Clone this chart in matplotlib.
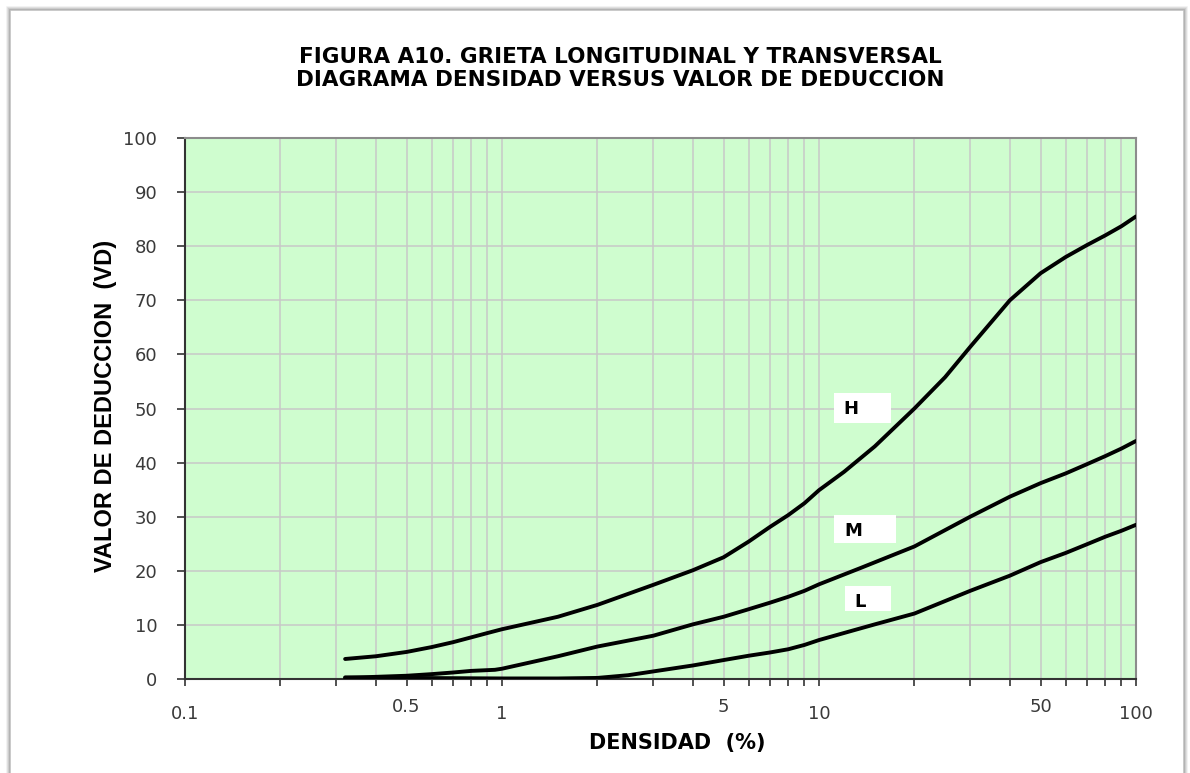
import matplotlib
matplotlib.use("Agg")
import matplotlib.pyplot as plt
from matplotlib.patches import Rectangle

plt.rcParams['font.family'] = ['DejaVu Sans']

# Density (%) vs deduct value for each severity level
dens_H = [0.32, 0.4, 0.5, 0.6, 0.7, 0.8, 0.9, 1.0, 1.5, 2, 3, 4, 5, 6, 7, 8, 9, 10,
          12, 15, 20, 25, 30, 40, 50, 60, 70, 80, 90, 100]
vd_H = [3.7, 4.2, 5.0, 5.9, 6.8, 7.7, 8.5, 9.2, 11.5, 13.7, 17.4, 20.1, 22.5, 25.4, 28.1,
        30.3, 32.5, 34.9, 38.3, 43.0, 50.0, 55.8, 61.4, 70.0, 75.0, 78.0, 80.2, 82.0,
        83.7, 85.5]

dens_M = [0.32, 0.4, 0.5, 0.6, 0.7, 0.8, 0.95, 1.0, 1.5, 2, 3, 4, 5, 6, 7, 8, 9, 10,
          13.5, 20, 30, 40, 50, 60, 70, 80, 90, 100]
vd_M = [0.2, 0.4, 0.6, 0.9, 1.2, 1.5, 1.7, 1.9, 4.2, 6.0, 8.0, 10.1, 11.5, 12.9, 14.1,
        15.2, 16.3, 17.5, 20.5, 24.5, 30.0, 33.7, 36.2, 38.0, 39.7, 41.2, 42.6, 44.0]

dens_L = [0.32, 0.5, 1.0, 1.5, 2, 2.5, 3, 4, 5, 6, 7, 8, 9, 10, 12.5, 15, 20, 30, 40,
          50, 60, 70, 80, 90, 100]
vd_L = [0.3, 0.2, 0.1, 0.1, 0.2, 0.7, 1.4, 2.5, 3.5, 4.3, 4.9, 5.5, 6.3, 7.2, 8.8, 10.1,
        12.1, 16.3, 19.1, 21.6, 23.3, 24.9, 26.3, 27.4, 28.5]

curve_labels = ["H", "M", "L"]

major_x = [0.1, 1, 10, 100]
major_x_labels = ["0.1", "1", "10", "100"]
minor_x = [m * d for d in (0.1, 1, 10) for m in range(2, 10)]
minor_x_labeled = {0.5: "0.5", 5: "5", 50: "50"}
y_ticks = list(range(0, 101, 10))

title_lines = ["FIGURA A10. GRIETA LONGITUDINAL Y TRANSVERSAL",
               "DIAGRAMA DENSIDAD VERSUS VALOR DE DEDUCCION"]
x_title = "DENSIDAD  (%)"
y_title = "VALOR DE DEDUCCION  (VD)"

W, H = 1190, 773
fig = plt.figure(figsize=(W / 100, H / 100), dpi=100)
fig.patch.set_facecolor("white")


def fx(px):
    return px / W


def fy(py):
    return 1 - py / H


# card frame with soft shadow
for off, alpha in [(3, 0.10), (2, 0.18), (1, 0.30), (0, 0.45)]:
    fig.patches.append(Rectangle((fx(10 - off), fy(800)), fx(1174 + 2 * off),
                                 fy(10 - off) - fy(800),
                                 transform=fig.transFigure, fill=False, zorder=-5,
                                 edgecolor=(0.45, 0.45, 0.45, alpha), linewidth=1.2))

ax = fig.add_axes([fx(185), fy(679), fx(1136 - 185), fy(138) - fy(679)])
ax.set_facecolor("#CFFDCF")
ax.set_xscale("log")
ax.set_xlim(0.1, 100)
ax.set_ylim(0, 100)

ax.set_xticks(major_x)
ax.set_xticklabels(major_x_labels)
ax.set_xticks(minor_x, minor=True)
ax.set_xticklabels([minor_x_labeled.get(round(v, 6), "") for v in minor_x], minor=True)
ax.set_yticks(y_ticks)
ax.set_yticklabels([str(v) for v in y_ticks])

ax.grid(True, which="both", axis="x", color="#c8c8c8", linewidth=1.1)
ax.grid(True, which="major", axis="y", color="#c8c8c8", linewidth=1.1)
ax.set_axisbelow(True)

ax.tick_params(axis="x", which="major", direction="out", length=5, width=1.2,
               color="#333333", labelsize=13, labelcolor="#3a3a3a", pad=14)
ax.tick_params(axis="x", which="minor", direction="out", length=5, width=1.2,
               color="#333333", labelsize=13, labelcolor="#3a3a3a", pad=9)
ax.tick_params(axis="y", direction="out", length=6, width=1.2, color="#333333",
               labelsize=13, labelcolor="#3a3a3a", pad=14)

for side in ("left", "bottom"):
    ax.spines[side].set_color("#333333")
    ax.spines[side].set_linewidth(1.5)
for side in ("top", "right"):
    ax.spines[side].set_color("#8c8c8c")
    ax.spines[side].set_linewidth(1.5)

for xs, ys in [(dens_H, vd_H), (dens_M, vd_M), (dens_L, vd_L)]:
    ax.plot(xs, ys, color="black", linewidth=2.8, solid_joinstyle="round",
            solid_capstyle="round", zorder=3)

# curve tags on white boxes (axes fraction)
tag_boxes = [(0.6824, 0.4732, 0.0600, 0.0555, 0.700, 0.499),
             (0.6824, 0.2514, 0.0652, 0.0517, 0.7024, 0.2736),
             (0.6940, 0.1257, 0.0484, 0.0462, 0.7098, 0.143)]
for name, (bx, by, bw, bh, tx, ty) in zip(curve_labels, tag_boxes):
    ax.add_patch(Rectangle((bx, by), bw, bh, transform=ax.transAxes,
                           facecolor="white", edgecolor="none", zorder=4))
    ax.text(tx, ty, name, transform=ax.transAxes, ha="center", va="center",
            fontsize=13, fontweight="bold", color="black", zorder=5)

fig.text(fx(620), fy(57), title_lines[0], ha="center", va="center",
         fontsize=15.5, fontweight="bold", color="black")
fig.text(fx(620), fy(80), title_lines[1], ha="center", va="center",
         fontsize=15.5, fontweight="bold", color="black")
fig.text(fx(677), fy(743), x_title, ha="center", va="center",
         fontsize=15, fontweight="bold", color="black")
fig.text(fx(106), fy(406), y_title, ha="center", va="center", rotation=90,
         fontsize=17, fontweight="bold", color="black", family="Liberation Sans")

fig.savefig("out.png", dpi=100)
